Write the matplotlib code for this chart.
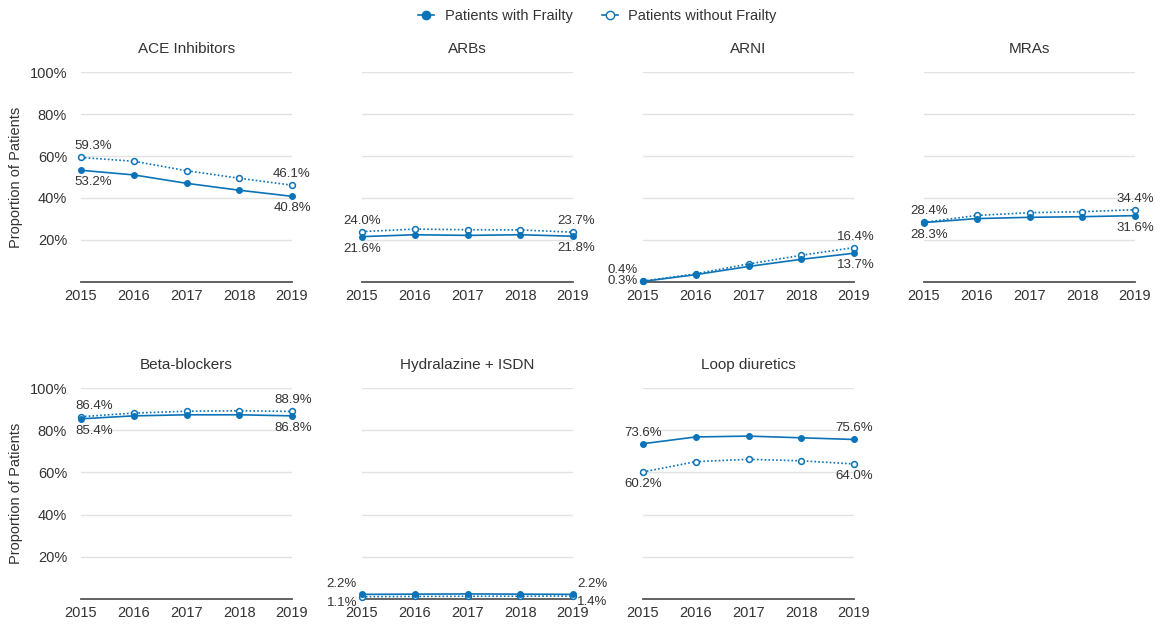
import numpy as np
import matplotlib.pyplot as plt

plt.rcParams['font.family'] = ['Liberation Sans', 'DejaVu Sans']

# data ------------------------------------------------------------------------
years = [2015, 2016, 2017, 2018, 2019]
drugs = ['ACE Inhibitors', 'ARBs', 'ARNI', 'MRAs',
         'Beta-blockers', 'Hydralazine + ISDN', 'Loop diuretics']

with_frailty = [
    [53.2, 51.0, 47.0, 43.7, 40.8],
    [21.6, 22.5, 22.2, 22.5, 21.8],
    [0.3, 3.5, 7.4, 10.8, 13.7],
    [28.3, 30.2, 30.8, 31.1, 31.6],
    [85.4, 86.8, 87.3, 87.3, 86.8],
    [2.2, 2.3, 2.4, 2.3, 2.2],
    [73.6, 76.8, 77.2, 76.4, 75.6],
]
without_frailty = [
    [59.3, 57.5, 53.0, 49.4, 46.1],
    [24.0, 25.2, 24.9, 24.8, 23.7],
    [0.4, 3.9, 8.6, 12.7, 16.4],
    [28.4, 31.7, 33.0, 33.5, 34.4],
    [86.4, 88.1, 89.0, 89.2, 88.9],
    [1.1, 1.2, 1.3, 1.3, 1.4],
    [60.2, 65.1, 66.2, 65.5, 64.0],
]

# styling ---------------------------------------------------------------------
blue = '#0b73b8'
text_color = '#333333'
grid_color = '#e3e3e3'

# horizontal placement of the end labels (pixels, alignment) per panel
first_label = [(12, 'center'), (0, 'center'), (-5, 'right'), (5, 'center'),
               (13, 'center'), (-5, 'right'), (0, 'center')]
last_label = [(0, 'center'), (3, 'center'), (2, 'center'), (0, 'center'),
              (1, 'center'), (4, 'left'), (0, 'center')]

W, H = 1160, 624
fig = plt.figure(figsize=(W / 100, H / 100), dpi=100)

col_x = [81, 362, 643, 924]
ax_w = 211
rows = [(72, 282), (388, 599)]


def add_label(ax, x, y, value, dx, dy, ha):
    ax.annotate(f'{value:.1f}%', (x, y), xytext=(dx, dy),
                textcoords='offset pixels', ha=ha, va='center',
                fontsize=9.5, color=text_color, annotation_clip=False)


for i, name in enumerate(drugs):
    r, c = divmod(i, 4)
    top, bottom = rows[r]
    ax = fig.add_axes([col_x[c] / W, 1 - bottom / H, ax_w / W,
                       (bottom - top) / H])

    wf = with_frailty[i]
    wo = without_frailty[i]
    ax.plot(years, wf, '-', color=blue, lw=1.2, marker='o', ms=4,
            mfc=blue, mec=blue, clip_on=False, zorder=4)
    ax.plot(years, wo, color=blue, lw=1.2, ls=(0, (1, 1.3)), marker='o',
            ms=4.2, mfc='white', mec=blue, mew=1.1, clip_on=False, zorder=3)

    ax.set_xlim(2015, 2019)
    ax.set_ylim(0, 100)
    ax.set_yticks([20, 40, 60, 80, 100])
    ax.set_xticks(years)
    ax.grid(axis='y', color=grid_color, lw=1)
    ax.set_axisbelow(True)
    for s in ['top', 'right', 'left']:
        ax.spines[s].set_visible(False)
    ax.spines['bottom'].set_color('#555555')
    ax.spines['bottom'].set_linewidth(1.3)
    ax.tick_params(length=0, labelsize=10.5, colors=text_color)
    ax.tick_params(axis='x', pad=5)
    ax.tick_params(axis='y', pad=10)
    if c == 0:
        ax.set_yticklabels([f'{t}%' for t in ax.get_yticks()])
        ax.set_ylabel('Proportion of Patients', fontsize=10.5,
                      color=text_color, labelpad=5)
    else:
        ax.set_yticklabels([])
    ax.set_title(name, fontsize=11, color=text_color, pad=14)

    # end labels: higher series above, lower series below
    for j, (dx, ha) in [(0, first_label[i]), (-1, last_label[i])]:
        hi, lo = (wf, wo) if wf[j] > wo[j] else (wo, wf)
        dy_hi, dy_lo = 11, -12
        if i == 5:
            dy_hi, dy_lo = 10, -6
        elif ha == 'right':
            dy_lo = 0
        add_label(ax, years[j], hi[j], hi[j], dx, dy_hi, ha)
        add_label(ax, years[j], lo[j], lo[j], dx, dy_lo, ha)

# legend ----------------------------------------------------------------------
h1, = plt.plot([], [], '-', color=blue, lw=1.2, marker='o', ms=6,
               mfc=blue, mec=blue)
h2, = plt.plot([], [], '-', color=blue, lw=1.2, marker='o', ms=6,
               mfc='white', mec=blue)
fig.legend([h1, h2], ['Patients with Frailty', 'Patients without Frailty'],
           loc='center', bbox_to_anchor=(0.515, 1 - 16 / H), ncol=2,
           frameon=False, fontsize=10.5, handlelength=1.1,
           columnspacing=2.0, handletextpad=0.7, labelcolor=text_color)

fig.savefig('out.png', dpi=100)
